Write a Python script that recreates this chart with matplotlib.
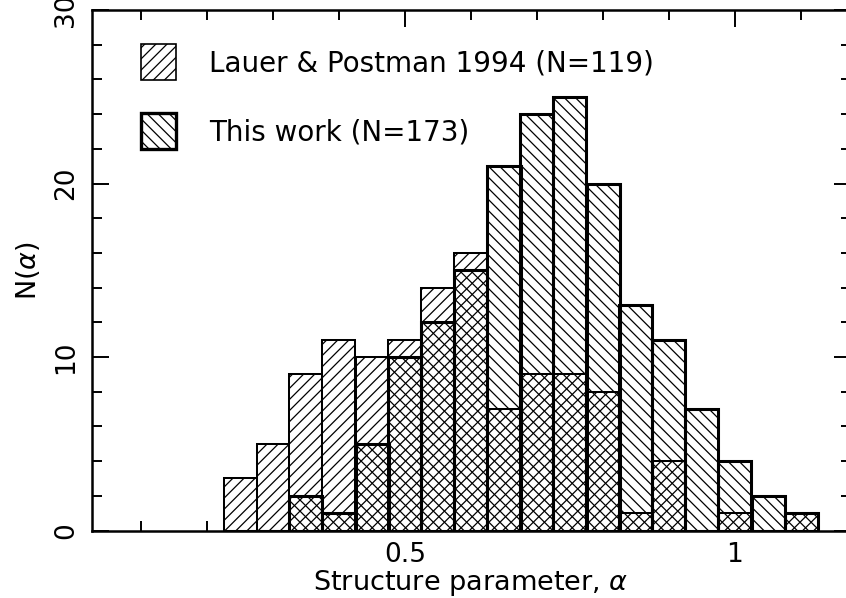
import matplotlib
matplotlib.use("Agg")
import matplotlib.pyplot as plt
from matplotlib.patches import Patch
from matplotlib.ticker import MultipleLocator

# bin centres of the structure parameter alpha (bin width 0.05)
alpha_bins = [0.25, 0.30, 0.35, 0.40, 0.45, 0.50, 0.55, 0.60, 0.65,
              0.70, 0.75, 0.80, 0.85, 0.90, 0.95, 1.00, 1.05, 1.10]
# Lauer & Postman 1994, N=119
n_lauer = [3, 5, 9, 11, 10, 11, 14, 16, 7, 9, 9, 8, 1, 4, 0, 1, 0, 1]
# this work, N=173
n_this = [0, 0, 2, 1, 5, 10, 12, 15, 21, 24, 25, 20, 13, 11, 7, 4, 2, 1]

label_lauer = "Lauer & Postman 1994 (N=119)"
label_this = "This work (N=173)"

plt.rcParams["font.family"] = ["DejaVu Sans"]
plt.rcParams["mathtext.fontset"] = "dejavusans"
plt.rcParams["hatch.linewidth"] = 0.9
plt.rcParams["hatch.color"] = "black"

fig = plt.figure(figsize=(8.46, 5.98), dpi=100)
ax = fig.add_axes([91.5 / 846, 67.5 / 598, 759 / 846, 520.5 / 598])

ax.bar(alpha_bins, n_lauer, width=0.05, facecolor="white", edgecolor="black",
       hatch="///", linewidth=1.45, zorder=2)
ax.bar(alpha_bins, n_this, width=0.05, facecolor="none", edgecolor="black",
       hatch="\\\\\\", linewidth=2.2, zorder=3)

ax.set_xlim(0.025, 1.175)
ax.set_ylim(0, 30)

ax.set_xticks([0.5, 1.0])
ax.set_xticklabels(["0.5", "1"])
ax.xaxis.set_minor_locator(MultipleLocator(0.1))
ax.set_yticks([0, 10, 20, 30])
ax.yaxis.set_minor_locator(MultipleLocator(2))
for lab in ax.get_yticklabels():
    lab.set_rotation(90)
    lab.set_va("center")

ax.tick_params(which="both", direction="in", top=True, right=True, width=1.4,
               labelsize=19)
ax.tick_params(which="major", length=12)
ax.tick_params(which="minor", length=7)
ax.tick_params(axis="x", which="major", pad=8)
ax.tick_params(axis="y", which="major", pad=9)
for sp in ax.spines.values():
    sp.set_linewidth(1.8)
    sp.set_zorder(4)

ax.set_xlabel(r"Structure parameter, $\alpha$", fontsize=19.5, labelpad=0)
ax.set_ylabel(r"N($\alpha$)", fontsize=19.5, labelpad=8)

handles = [
    Patch(facecolor="white", edgecolor="black", hatch="///", linewidth=1.2),
    Patch(facecolor="white", edgecolor="black", hatch="\\\\\\", linewidth=2.4),
]
ax.legend(handles, [label_lauer, label_this], loc="upper left",
          bbox_to_anchor=((141 - 91.5) / 759, (530.5 - 44) / 520.5),
          frameon=False, fontsize=20, borderpad=0, borderaxespad=0,
          handlelength=1.26, handleheight=1.615, handletextpad=1.19,
          labelspacing=1.19)

fig.savefig("out.png", dpi=100)
